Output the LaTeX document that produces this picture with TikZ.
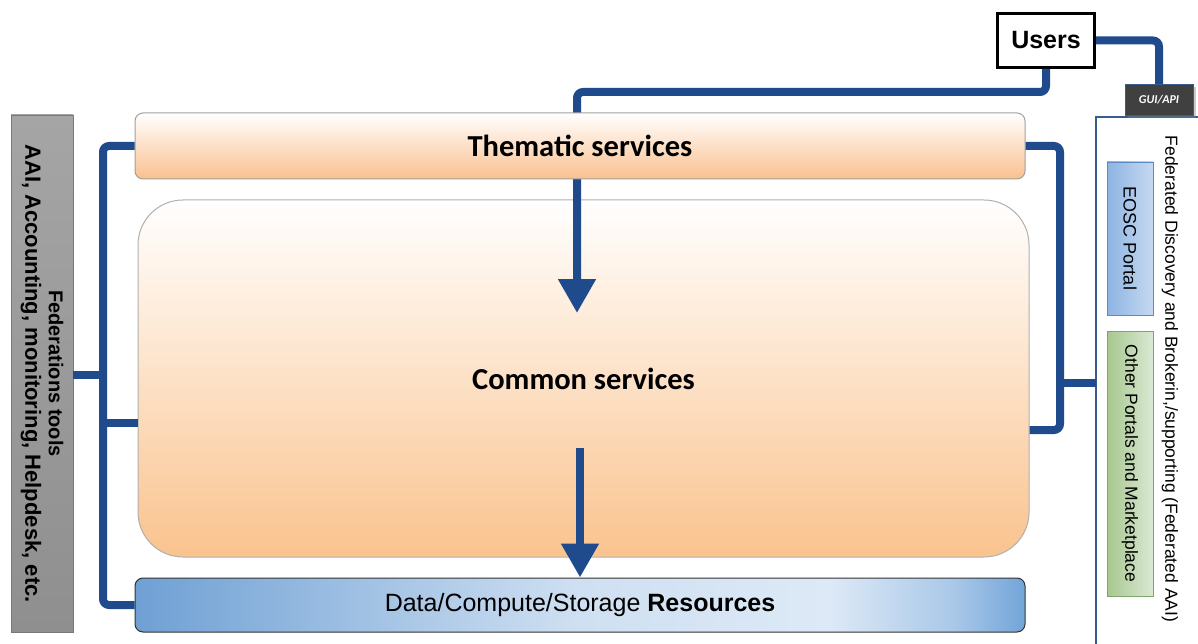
\documentclass[tikz,border=0pt]{standalone}
\usepackage{fontspec}
\setmainfont{Liberation Sans}
\newfontfamily\calibri{Carlito}
\usetikzlibrary{arrows.meta,shadows}
\definecolor{conn}{HTML}{1F4A8C}
\definecolor{orangeB}{HTML}{FAC08F}
\definecolor{orangeC}{HTML}{FAC38E}
\definecolor{resL}{HTML}{6FA0D4}
\definecolor{resM}{HTML}{CFE0F2}
\definecolor{resN}{HTML}{DDE9F6}
\definecolor{resO}{HTML}{A9C8E8}
\definecolor{resR}{HTML}{72A5D8}
\definecolor{panel}{HTML}{385D8A}
\definecolor{eoscD}{HTML}{5B8BC6}
\definecolor{eoscL}{HTML}{8DB4E2}
\definecolor{eoscR}{HTML}{C6D9F1}
\definecolor{othD}{HTML}{7FA66A}
\definecolor{othL}{HTML}{A7C78F}
\definecolor{othR}{HTML}{D9E9D3}
\definecolor{fedD}{HTML}{787878}
\definecolor{fedT}{HTML}{A5A5A5}
\definecolor{fedM}{HTML}{DADADA}
\definecolor{fedB}{HTML}{8F8F8F}
\definecolor{grayA}{HTML}{A0A0A0}
\definecolor{grayB}{HTML}{B0B0B0}
\definecolor{grayC}{HTML}{323232}
\definecolor{guiF}{HTML}{404040}
\pgfdeclarehorizontalshading{resshade}{100bp}{color(0bp)=(resL); color(25bp)=(resL); color(50bp)=(resM); color(64bp)=(resN); color(71bp)=(resO); color(75bp)=(resR); color(100bp)=(resR)}
\begin{document}
\begin{tikzpicture}[x=1pt,y=-1pt,
  conn/.style={draw=conn,line width=8pt,rounded corners=6pt},
  tip/.style={-{Triangle[length=34pt,width=36pt]}},
  band/.style={rounded corners=8pt,minimum width=890pt,inner sep=0pt}]
\useasboundingbox[fill=white] (0,0) rectangle (1198,644);

% right panel
\draw[panel,line width=1.2pt] (1096,644) -- (1096,117) -- (1198,117);
\coordinate (panelL) at (1096,383);
\node (fedtext) at (1170,379) {\rotatebox{-90}{\fontsize{17.5}{20}\selectfont Federated Discovery and Brokerin,/supporting (Federated AAI)}};
\node[draw=eoscD,left color=eoscL,right color=eoscR,minimum width=46pt,minimum height=153pt,inner sep=0pt] (eosc) at (1130,238.5) {\rotatebox{-90}{\fontsize{18}{20}\selectfont EOSC Portal}};
\node[draw=othD,left color=othL,right color=othR,minimum width=46pt,minimum height=265pt,inner sep=0pt] (other) at (1130,463.5) {\rotatebox{-90}{\fontsize{17.5}{20}\selectfont Other Portals and Marketplace}};

% federation tools
\node[draw=fedD,top color=fedT,middle color=fedM,bottom color=fedB,minimum width=62pt,minimum height=517pt,inner sep=0pt] (fed) at (42,373.5) {\rotatebox{-90}{\bfseries\begin{tabular}{@{}c@{}}\fontsize{20}{22}\selectfont Federations tools\\[4pt]\fontsize{22}{24}\selectfont AAI, Accounting, monitoring, Helpdesk, etc.\end{tabular}}};

% common services
\node[draw=grayB,line width=1pt,rounded corners=45pt,top color=white,bottom color=orangeC,minimum width=891pt,minimum height=357pt,inner sep=0pt,font=\calibri\bfseries\fontsize{30.5}{36}\selectfont] (common) at (583.5,378.5) {Common services};

% users and GUI
\node[draw,line width=3pt,minimum width=97pt,minimum height=54pt,inner sep=0pt,font=\bfseries\fontsize{25}{30}\selectfont] (users) at (1046,40.5) {Users};
\node[draw=panel,fill=guiF,text=white,drop shadow={opacity=0.4},minimum width=68pt,minimum height=31pt,inner sep=0pt,font=\calibri\bfseries\itshape\fontsize{12}{14}\selectfont] (gui) at (1159,99.5) {GUI/API};
\draw[conn] (users.east) -| (gui.north);

% arrow users -> common (through thematic)
\coordinate (tarr) at (577,313);
\draw[conn,tip] (users.south) |- (577,92) -- (tarr);

% thematic services
\node[band,draw=grayA,line width=1pt,top color=white,bottom color=orangeB,minimum height=66pt,font=\calibri\bfseries\fontsize{30.5}{36}\selectfont] (them) at (580,146) {Thematic services};

% resources
\node[band,draw=grayC,line width=1pt,shading=resshade,minimum height=54pt,font=\fontsize{25}{30}\selectfont] (res) at (580,605) {Data/Compute/Storage \textbf{Resources}};

% arrow common -> resources
\coordinate (carr) at (580,448);
\draw[conn,tip] (carr) -- (carr |- res.north);

% left tree
\coordinate (lt) at (103,146);
\coordinate (lb) at (103,605);
\coordinate (lf) at (103,375);
\coordinate (lc) at (103,423);
\draw[conn] (them.west) -- (lt) -- (lb) -- (res.west);
\draw[conn] (fed.east |- lf) -- (lf);
\draw[conn] (lc) -- (lc -| common.west);

% right tree
\coordinate (rt) at (1060,146);
\coordinate (rc) at (1060,430);
\coordinate (rp) at (1060,383);
\draw[conn] (them.east) -- (rt) -- (rc) -- (rc -| common.east);
\draw[conn] (rp) -- (panelL);
\end{tikzpicture}
\end{document}
